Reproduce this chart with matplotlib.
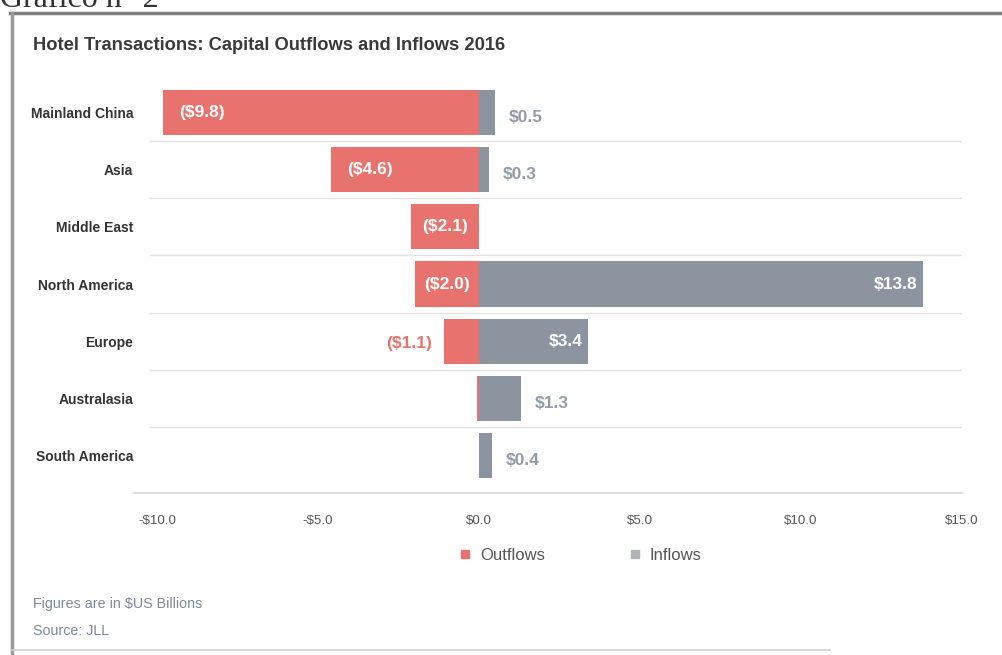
import matplotlib
matplotlib.use("Agg")
import matplotlib.pyplot as plt
from matplotlib.lines import Line2D
from matplotlib import transforms

categories = ["Mainland China", "Asia", "Middle East", "North America",
              "Europe", "Australasia", "South America"]
outflows = [-9.8, -4.6, -2.1, -2.0, -1.1, -0.05, 0.0]
inflows = [0.5, 0.3, 0.0, 13.8, 3.4, 1.3, 0.4]
out_labels = ["($9.8)", "($4.6)", "($2.1)", "($2.0)", "($1.1)", "", ""]
in_labels = ["$0.5", "$0.3", "", "$13.8", "$3.4", "$1.3", "$0.4"]
xticks = [-10, -5, 0, 5, 10, 15]
xtick_labels = ["-$10.0", "-$5.0", "$0.0", "$5.0", "$10.0", "$15.0"]

OUT_C = "#e8736e"
IN_C = "#8b949f"
SANS = ["Liberation Sans", "DejaVu Sans"]

W, H = 1002, 655
fig = plt.figure(figsize=(W / 100, H / 100), dpi=100)
fig.patch.set_facecolor("white")

ax = fig.add_axes([134.5 / W, (H - 493) / H, 827.5 / W, (493 - 78) / H])
ypos = list(range(len(categories)))
bh = 0.79
ax.barh(ypos, outflows, height=bh, color=OUT_C, zorder=3)
ax.barh(ypos, inflows, height=bh, color=IN_C, zorder=3)
ax.set_xlim(-10.7, 15)
ax.set_ylim(6.65, -0.6)

for s in ["top", "right", "left"]:
    ax.spines[s].set_visible(False)
ax.spines["bottom"].set_color("#d6d6d6")
ax.spines["bottom"].set_linewidth(1.2)

for i in range(len(categories) - 1):
    ax.axhline(i + 0.5, xmin=0.019, xmax=1.0, color="#e2e2e2", lw=1.0, zorder=1)

ax.set_xticks(xticks)
ax.set_xticklabels(xtick_labels, family=SANS, fontsize=9.6, color="#555555")
ax.tick_params(axis="x", length=0, pad=16)
ax.set_yticks(ypos)
ax.set_yticklabels(categories, family=SANS, fontweight="bold", fontsize=10,
                   color="#333333")
ax.tick_params(axis="y", length=0, pad=1)

px = transforms.offset_copy
LBL = dict(family=SANS, fontweight="bold", fontsize=12.5, zorder=4)
for i, (o, lab) in enumerate(zip(outflows, out_labels)):
    if not lab:
        continue
    width_px = abs(o) * 32.2
    if width_px > 100:
        t = px(ax.transData, fig=fig, x=16, y=0, units="dots")
        ax.text(o, i, lab, transform=t, ha="left", va="center", color="white", **LBL)
    elif width_px > 50:
        ax.text(o / 2, i, lab, ha="center", va="center", color="white", **LBL)
    else:
        t = px(ax.transData, fig=fig, x=-12, y=-2, units="dots")
        ax.text(o, i, lab, transform=t, ha="right", va="center", color=OUT_C, **LBL)

for i, (v, lab) in enumerate(zip(inflows, in_labels)):
    if not lab:
        continue
    if v > 3:
        t = px(ax.transData, fig=fig, x=-6, y=0, units="dots")
        ax.text(v, i, lab, transform=t, ha="right", va="center", color="white", **LBL)
    else:
        t = px(ax.transData, fig=fig, x=14, y=-5, units="dots")
        ax.text(v, i, lab, transform=t, ha="left", va="center", color="#939ba6", **LBL)

handles = [Line2D([], [], marker="s", ls="none", color=OUT_C, markersize=6),
           Line2D([], [], marker="s", ls="none", color="#b0b4b9", markersize=6)]
fig.legend(handles, ["Outflows", "Inflows"], loc="center",
           bbox_to_anchor=(580 / W, 1 - 555 / H), ncol=2, frameon=False,
           handlelength=0.8, handletextpad=0.5, columnspacing=5.0,
           prop={"family": SANS, "size": 12}, labelcolor="#555555")

fig.text(33 / W, 1 - 45 / H, "Hotel Transactions: Capital Outflows and Inflows 2016",
         family=SANS, fontweight="bold", fontsize=13.2, color="#3a3a3a",
         ha="left", va="center")
fig.text(33 / W, 1 - 604 / H, "Figures are in $US Billions", family=SANS,
         fontsize=10.3, color="#7b8a9b", ha="left", va="center")
fig.text(33 / W, 1 - 631 / H, "Source: JLL", family=SANS,
         fontsize=10.3, color="#7b8a9b", ha="left", va="center")

fig.text(0.0, 1 - 7 / H, "Gráfico n° 2", family=["Liberation Serif", "DejaVu Serif"],
         fontsize=23, color="#333333", ha="left", va="baseline")

# frame
fig.add_artist(Line2D([10 / W, 1.0], [1 - 13 / H, 1 - 13 / H], color="#7d7d7d",
                      lw=2.5, transform=fig.transFigure))
fig.add_artist(Line2D([12 / W, 12 / W], [1 - 13 / H, 0.0], color="#9a9a9a",
                      lw=2.5, transform=fig.transFigure))
fig.add_artist(Line2D([12 / W, 830 / W], [1 - 650 / H, 1 - 650 / H], color="#cfcfcf",
                      lw=1.2, transform=fig.transFigure))

fig.savefig("out.png", dpi=100, facecolor="white")
